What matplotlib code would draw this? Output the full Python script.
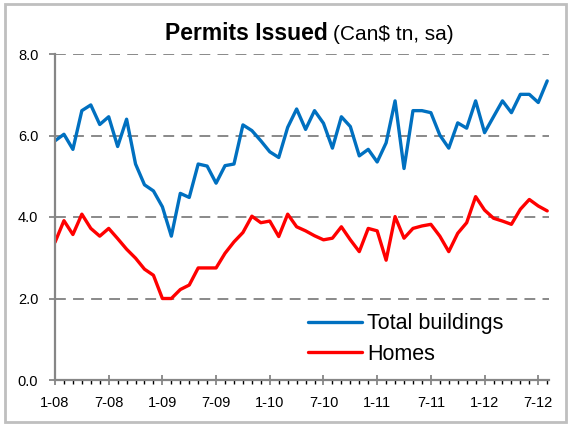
"""
Permits issued (Can$ tn, sa): total buildings vs homes, monthly 2008-2012.
"""
import matplotlib

matplotlib.use("Agg")
import matplotlib.pyplot as plt
from matplotlib.patches import Rectangle

plt.rcParams["font.family"] = ["Liberation Sans", "DejaVu Sans"]

# monthly values, Jan 2008 .. Aug 2012
total_buildings = [
    5.87, 6.03, 5.66, 6.61, 6.75, 6.27, 6.46, 5.73, 6.40, 5.30,
    4.79, 4.64, 4.25, 3.53, 4.58, 4.48, 5.30, 5.25, 4.83, 5.26,
    5.30, 6.26, 6.12, 5.87, 5.60, 5.46, 6.20, 6.65, 6.15, 6.61,
    6.30, 5.69, 6.46, 6.22, 5.50, 5.66, 5.35, 5.82, 6.85, 5.19,
    6.61, 6.61, 6.56, 6.01, 5.69, 6.31, 6.18, 6.85, 6.07, 6.46,
    6.85, 6.56, 7.01, 7.01, 6.81, 7.34,
]
homes = [
    3.38, 3.91, 3.57, 4.07, 3.72, 3.53, 3.72, 3.47, 3.21, 2.99,
    2.72, 2.57, 2.00, 2.00, 2.22, 2.33, 2.75, 2.75, 2.75, 3.11,
    3.39, 3.62, 4.02, 3.86, 3.90, 3.52, 4.07, 3.76, 3.66, 3.54,
    3.44, 3.48, 3.76, 3.44, 3.15, 3.72, 3.66, 2.94, 4.01, 3.48,
    3.72, 3.78, 3.82, 3.53, 3.15, 3.60, 3.86, 4.50, 4.17, 3.97,
    3.90, 3.82, 4.19, 4.43, 4.27, 4.15,
]
tick_labels = ["1-08", "7-08", "1-09", "7-09", "1-10",
               "7-10", "1-11", "7-11", "1-12", "7-12"]
y_ticks = [0, 2, 4, 6, 8]

months = list(range(len(total_buildings)))
W, H = 573, 426

fig = plt.figure(figsize=(W / 100, H / 100), dpi=100)
fig.patches.append(Rectangle((5 / W, 4 / H), 561 / W, 418 / H,
                             transform=fig.transFigure, fill=False,
                             edgecolor="#bfbfbf", linewidth=2))
ax = fig.add_axes([55 / W, 46 / H, 494 / W, 326 / H])

ax.plot(months, total_buildings, color="#0070c0", linewidth=2.4,
        label="Total buildings", solid_capstyle="round")
ax.plot(months, homes, color="#ff0000", linewidth=2.4,
        label="Homes", solid_capstyle="round")

ax.set_xlim(0, 55.2)
ax.set_ylim(0, 8)
ax.set_yticks(y_ticks)
ax.set_yticklabels([f"{v:.1f}" for v in y_ticks])
ax.set_xticks(months[::6])
ax.set_xticklabels(tick_labels)
ax.set_xticks(months, minor=True)

for v in y_ticks[1:]:
    ax.axhline(v, color="#808080", linewidth=1.3, linestyle=(0, (6, 4)),
               zorder=0)

for side in ("top", "right"):
    ax.spines[side].set_visible(False)
for side in ("left", "bottom"):
    ax.spines[side].set_color("#868686")
    ax.spines[side].set_linewidth(1.6)

ax.tick_params(axis="both", labelsize=10.5, colors="#868686",
               labelcolor="black")
ax.tick_params(axis="y", direction="out", length=4, width=1.3, pad=8)
ax.tick_params(axis="x", which="major", direction="inout", length=7,
               width=1.3, pad=8)
ax.tick_params(axis="x", which="minor", direction="out", length=3, width=1)

ax.legend(loc="upper left", bbox_to_anchor=(0.512, 0.205), frameon=False,
          fontsize=15.5, handlelength=2.5, handletextpad=0.25,
          borderpad=0, borderaxespad=0, labelspacing=0.45)

fig.text(0.572, 1 - 40 / H, "Permits Issued", ha="right", va="baseline",
         fontsize=16.5, fontweight="bold")
fig.text(0.581, 1 - 40 / H, r"(Can\$ tn, sa)", ha="left", va="baseline",
         fontsize=15)

plt.savefig("out.png", dpi=100)
